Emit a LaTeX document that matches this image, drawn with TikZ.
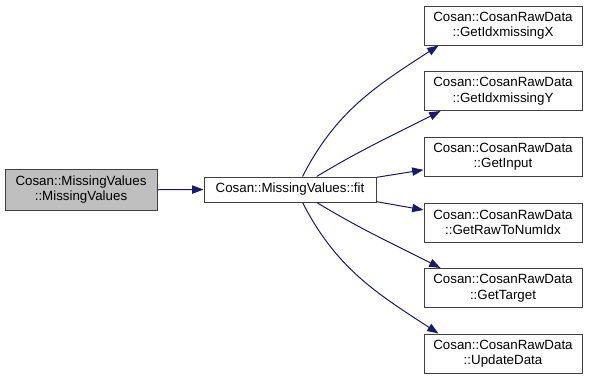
\documentclass[tikz,border=0pt]{standalone}
\usepackage{fontspec}
\setmainfont{Liberation Sans}
\usetikzlibrary{arrows.meta}
\definecolor{edgeblue}{HTML}{191970}
\definecolor{boxline}{HTML}{404040}
\definecolor{boxfill}{HTML}{BFBFBF}
\tikzset{
  fn/.style={draw=boxline, line width=0.75pt, fill=white, inner sep=0pt,
    align=center, font=\fontsize{10}{11.6}\selectfont},
  current/.style={fn, fill=boxfill},
  callee/.style={fn, minimum width=118.5pt, minimum height=29.25pt},
  call/.style={draw=edgeblue, line width=0.75pt,
    -{Triangle[length=8.5pt, width=6.2pt]}},
}
\begin{document}
\begin{tikzpicture}[x=0.75pt, y=-0.75pt]
  \useasboundingbox (0,0) rectangle (591,379);

  % caller and the function itself
  \node[current, minimum width=114pt, minimum height=30.4pt] (mv) at (81,189.75)
    {Cosan::MissingValues\\::MissingValues};
  \node[fn, minimum width=129pt, minimum height=18.75pt] (fit) at (290,189.5)
    {Cosan::MissingValues::fit};

  % functions called by fit
  \node[callee] (gx)  at (503,25.5)  {Cosan::CosanRawData\\::GetIdxmissingX};
  \node[callee] (gy)  at (503,91)    {Cosan::CosanRawData\\::GetIdxmissingY};
  \node[callee] (gi)  at (503,156.5) {Cosan::CosanRawData\\::GetInput};
  \node[callee] (gr)  at (503,222.5) {Cosan::CosanRawData\\::GetRawToNumIdx};
  \node[callee] (gt)  at (503,288)   {Cosan::CosanRawData\\::GetTarget};
  \node[callee] (ud)  at (503,353.5) {Cosan::CosanRawData\\::UpdateData};

  % call edges
  \draw[call] (mv.east) -- (fit.west);
  \draw[call] (fit.46)  to[out=63, in=213]  ([xshift=11.25pt]gx.south west);
  \draw[call] (fit.26)  to[out=31, in=207]  ([xshift=12.75pt]gy.south west);
  \draw[call] (fit.8)   -- ([yshift=-10pt]gi.west);
  \draw[call] (fit.-8)  -- ([yshift=9.4pt]gr.west);
  \draw[call] (fit.-26) to[out=-31, in=153] ([xshift=12.75pt]gt.north west);
  \draw[call] (fit.-46) to[out=-63, in=147] ([xshift=11.25pt]ud.north west);
\end{tikzpicture}
\end{document}
